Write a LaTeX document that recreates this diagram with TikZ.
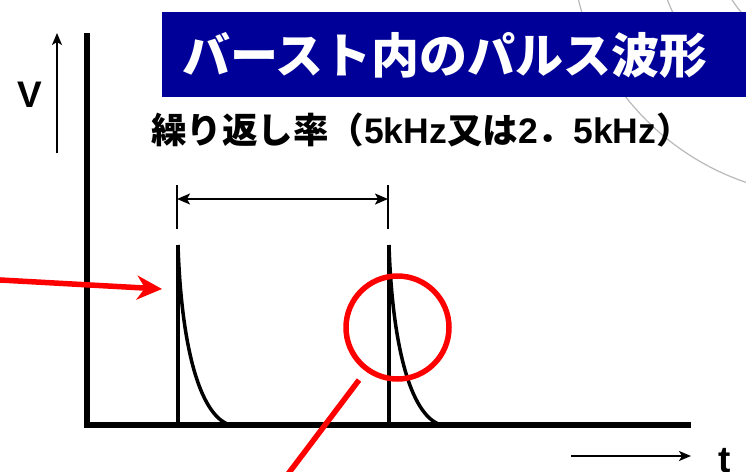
\documentclass[tikz,border=0pt]{standalone}
\usepackage{fontspec}
\setmainfont{Liberation Sans}
\newfontfamily\cjk{Noto Sans CJK JP}
\usetikzlibrary{arrows.meta}
\definecolor{titleblue}{RGB}{0,0,153}
\definecolor{arcgray}{RGB}{185,185,185}
\tikzset{
  axisline/.style={line width=5.5pt},
  pulseline/.style={line width=4pt},
  decayline/.style={line width=3.5pt},
  thinarrow/.style={line width=1.8pt,-{Stealth[length=12pt,width=10pt,inset=3pt]}},
  dimtick/.style={line width=1.8pt},
  redline/.style={draw=red,line width=5.5pt},
  lbl/.style={inner sep=0pt,font=\bfseries\fontsize{37}{37}\selectfont},
  bgarc/.style={draw=arcgray,line width=1.2pt}
}
\begin{document}
\begin{tikzpicture}[x=1pt,y=-1pt]
\useasboundingbox (0,0) rectangle (746,471);
\clip (0,0) rectangle (746,471);
% background arcs
\coordinate (arcc) at (829,-62);
\draw[bgarc] (arcc) circle[radius=258];
\draw[bgarc] (arcc) circle[radius=173];
\draw[bgarc] (arcc) circle[radius=115];
% title
\node[fill=titleblue,minimum width=584pt,minimum height=85pt,anchor=north west,inner sep=0pt] (titlebox) at (162,12) {};
\node[inner sep=0pt,text=white,font=\cjk\bfseries\fontsize{48}{48}\selectfont] (title) at (445,55) {バースト内のパルス波形};
% subtitle
\node[inner sep=0pt,anchor=west,font=\bfseries\fontsize{35.5}{36}\selectfont] (sub) at (151,130)
  {{\cjk 繰り返し率（}5kHz{\cjk 又は}2{\cjk ．}5kHz{\cjk ）}};
% axes
\coordinate (yt) at (87,33);
\coordinate (o) at (87,425);
\coordinate (xe) at (691,425);
\draw[axisline] (yt) -- (o.center) -- (xe);
\draw[axisline] (84.25,425) -- (xe);
% V arrow and label
\coordinate (vb) at (57,153);
\coordinate (vt) at (57,33);
\draw[thinarrow] (vb) -- (vt);
\node[lbl] (V) at (30,95) {V};
% t arrow and label
\coordinate (tb) at (571,456);
\coordinate (te) at (691,456);
\draw[thinarrow] (tb) -- (te);
\node[lbl,anchor=base] (t) at (725,472) {t};
% dimension
\coordinate (d1t) at (177,185); \coordinate (d1b) at (177,229);
\coordinate (d2t) at (388,185); \coordinate (d2b) at (388,229);
\draw[dimtick] (d1t) -- (d1b);
\draw[dimtick] (d2t) -- (d2b);
\coordinate (a1) at (177,199); \coordinate (a2) at (388,199);
\draw[line width=1.8pt,{Stealth[length=13pt,width=11pt,inset=3pt]}-{Stealth[length=13pt,width=11pt,inset=3pt]}] (a1) -- (a2);
% pulses
\coordinate (p1t) at (178,245); \coordinate (p1b) at (178,425); \coordinate (p1e) at (230,425);
\draw[pulseline] (p1t) -- (p1b);
\draw[decayline] (p1t) .. controls (181,340) and (198,415) .. (p1e);
\coordinate (p2t) at (389,245); \coordinate (p2b) at (389,425); \coordinate (p2e) at (441,425);
\draw[pulseline] (p2t) -- (p2b);
\draw[decayline] (p2t) .. controls (392,340) and (409,415) .. (p2e);
% red marks
\coordinate (rs) at (-5,279.7);
\coordinate (rt) at (162,289);
\draw[redline,-{Stealth[length=25pt,width=24pt,inset=8pt]}] (rs) -- (rt);
\coordinate (rc) at (397.5,327.5);
\draw[redline] (rc) circle[radius=51.5];
\coordinate (l1) at (359,380);
\coordinate (l2) at (285,478);
\draw[redline] (l1) -- (l2);
\end{tikzpicture}
\end{document}
